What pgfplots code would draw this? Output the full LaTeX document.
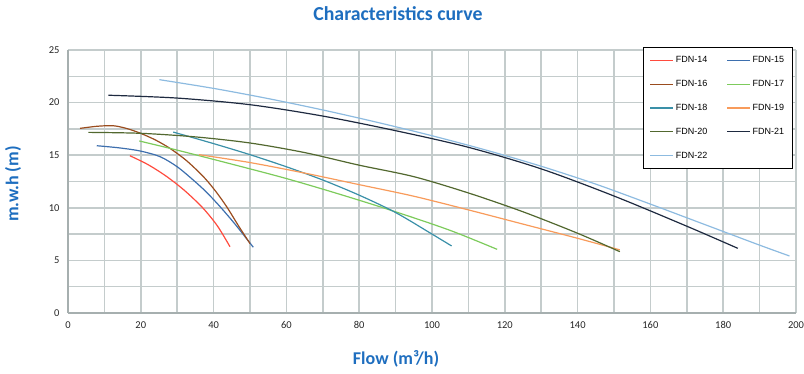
\documentclass[border=0pt]{standalone}
\usepackage{fontspec}
\setmainfont{Carlito}
\newfontfamily\legfont{Liberation Sans}
\usepackage{pgfplots}
\pgfplotsset{compat=1.18}
\definecolor{titleblue}{HTML}{1E6EBF}
\definecolor{gridgray}{HTML}{C4CCCC}
\definecolor{axgray}{HTML}{A6AFAF}
\definecolor{c14}{HTML}{FF4B3E}
\definecolor{c15}{HTML}{3D6FAE}
\definecolor{c16}{HTML}{9A4C1E}
\definecolor{c17}{HTML}{7DCB5C}
\definecolor{c18}{HTML}{3A90A8}
\definecolor{c19}{HTML}{F89B5B}
\definecolor{c20}{HTML}{52682F}
\definecolor{c21}{HTML}{1E2A40}
\definecolor{c22}{HTML}{8DBBE0}
\begin{document}
\begin{tikzpicture}
\useasboundingbox (0,0) rectangle (804pt,374pt);
\begin{axis}[
  at={(68pt,61pt)}, anchor=south west,
  scale only axis, width=728pt, height=263pt,
  xmin=0, xmax=200, ymin=0, ymax=25,
  xtick={0,20,...,200}, minor xtick={10,30,...,190},
  ytick={0,5,...,25}, minor ytick={2.5,7.5,...,22.5},
  grid=both,
  major grid style={draw=gridgray, line width=1.5pt},
  minor grid style={draw=gridgray, line width=1.5pt},
  axis x line*=bottom, axis y line*=left,
  axis line style={draw=axgray, line width=1.8pt, -},
  major tick length=0pt, minor tick length=0pt,
  /pgf/number format/assume math mode=true,
  tick label style={font=\fontsize{10.5}{12}\selectfont, text=black!85},
  xticklabel style={yshift=-5pt},
  yticklabel style={xshift=-5pt},
  legend columns=2,
  legend cell align=left,
  legend image code/.code={\draw[#1] (0pt,0pt) -- (23pt,0pt);},
  legend style={at={(0.9955,1.011)}, anchor=north east, draw=black, line width=1.2pt,
    fill=white, font=\legfont\fontsize{9}{10}\selectfont,
    inner xsep=6pt, inner ysep=7pt,
    row sep=12pt,
    /tikz/every even column/.append style={column sep=17pt},
    nodes={inner sep=2pt}},
  every axis plot/.append style={line width=1.2pt, smooth, no marks},
]
\addplot[c14] coordinates {(17,14.95)(22,14.1)(27,13.0)(32,11.65)(37,10.0)(41,8.3)(44.5,6.3)};
\addlegendentry{FDN-14}
\addplot[c15] coordinates {(7.9,15.9)(14,15.7)(19.8,15.4)(25.3,14.86)(30,13.9)(34.4,12.64)(38,11.5)(41.8,10.1)(46,8.4)(50.9,6.25)};
\addlegendentry{FDN-15}
\addplot[c16] coordinates {(3.3,17.55)(8,17.75)(12.4,17.8)(16,17.55)(19.8,17.1)(24,16.45)(28,15.65)(32.5,14.5)(37.2,12.96)(40.5,11.6)(43.6,10.1)(47,8.2)(50,6.6)};
\addlegendentry{FDN-16}
\addplot[c17] coordinates {(19.6,16.35)(30,15.48)(45,14.15)(60,12.78)(75,11.25)(90,9.62)(105,7.85)(117.9,6.05)};
\addlegendentry{FDN-17}
\addplot[c18] coordinates {(28.9,17.2)(40,16.1)(50,15.05)(60,13.9)(70,12.64)(80,11.2)(90,9.55)(100,7.5)(105.4,6.37)};
\addlegendentry{FDN-18}
\addplot[c19] coordinates {(36,15.05)(50,14.3)(65,13.3)(80,12.2)(95,11.1)(110,9.8)(125,8.45)(140,7.1)(151.6,6.0)};
\addlegendentry{FDN-19}
\addplot[c20] coordinates {(5.6,17.17)(20,17.08)(35,16.74)(50,16.16)(65,15.25)(80,14.05)(95,12.96)(110,11.41)(125,9.62)(140,7.58)(151.6,5.83)};
\addlegendentry{FDN-20}
\addplot[c21] coordinates {(11.1,20.7)(30,20.43)(50,19.8)(70,18.72)(90,17.33)(110,15.75)(130,13.7)(150,11.12)(170,8.25)(184,6.15)};
\addlegendentry{FDN-21}
\addplot[c22] coordinates {(25.1,22.18)(40,21.35)(55,20.38)(70,19.3)(85,18.12)(100,16.85)(115,15.47)(130,13.95)(145,12.25)(160,10.35)(175,8.4)(190,6.45)(198.2,5.42)};
\addlegendentry{FDN-22}
\end{axis}
\node[font=\fontsize{19.8}{23}\selectfont\bfseries, text=titleblue] at (398pt,360.5pt) {Characteristics curve};
\node[rotate=90, font=\fontsize{18}{21}\selectfont\bfseries, text=titleblue] at (13pt,190pt) {m.w.h (m)};
\node[font=\fontsize{18}{21}\selectfont\bfseries, text=titleblue] at (396pt,15.5pt) {Flow (m³/h)};
\end{tikzpicture}
\end{document}
